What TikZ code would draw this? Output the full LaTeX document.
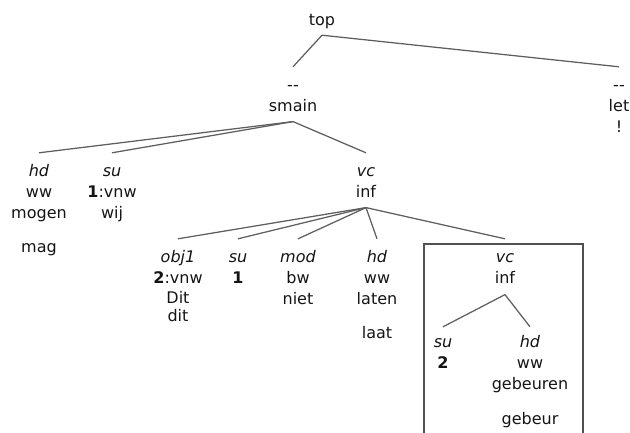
\documentclass[tikz,border=0pt]{standalone}
\usepackage{fontspec}
\setmainfont{DejaVu Sans}
\usepackage{tikz}
\usetikzlibrary{positioning}
\usepackage{xcolor}
\definecolor{cLine}{HTML}{5E5E5E}
\definecolor{cBox}{HTML}{505050}
\definecolor{cText}{HTML}{141414}

\begin{document}
\begin{tikzpicture}[
  x=1pt, y=-1pt, node distance=5pt,
  cat/.style={inner sep=0pt, text height=12pt, text depth=4pt, text=cText, font=\fontsize{16}{19}\selectfont},
  rel/.style={cat, font=\fontsize{16}{19}\selectfont\itshape},
  branch/.style={draw=cLine, line width=1.25pt},
]
\useasboundingbox (0,0) rectangle (630,432);
% top level
\node[cat, anchor=base] (top) at (322,25) {top};
\node[cat, anchor=base] (dashL) at (293,90) {{-}{-}};
\node[cat, below=of dashL] (smain) {smain};
\node[cat, anchor=base] (dashR) at (619,90) {{-}{-}};
\node[cat, below=of dashR] (let) {let};
\node[cat, below=of let] (excl) {!};
\draw[branch] ([yshift=-6pt]top.south) -- ([yshift=11pt]dashL.north);
\draw[branch] ([yshift=-6pt]top.south) -- ([yshift=11pt]dashR.north);
% daughters of smain
\node[rel, anchor=base] (hdS) at (39,176) {hd};
\node[cat, below=of hdS] (wwS) {ww};
\node[cat, below=of wwS] (mogen) {mogen};
\node[cat, below=17pt of mogen] (mag) {mag};
\node[rel, anchor=base] (suS) at (112,176) {su};
\node[cat, below=of suS] (vnwS) {\textbf{1}:vnw};
\node[cat, below=of vnwS] (wij) {wij};
\node[rel, anchor=base] (vcS) at (366,176) {vc};
\node[cat, below=of vcS] (infS) {inf};
\draw[branch] ([yshift=-6pt]smain.south) -- ([yshift=11pt]hdS.north);
\draw[branch] ([yshift=-6pt]smain.south) -- ([yshift=11pt]suS.north);
\draw[branch] ([yshift=-6pt]smain.south) -- ([yshift=11pt]vcS.north);
% daughters of inf
\node[rel, anchor=base] (obj) at (178,262) {obj1};
\node[cat, below=of obj] (vnwO) {\textbf{2}:vnw};
\node[cat, below=4pt of vnwO] (Dit) {Dit};
\node[cat, below=1pt of Dit] (dit) {dit};
\node[rel, anchor=base] (suI) at (238,262) {su};
\node[cat, below=of suI] (oneI) {\textbf{1}};
\node[rel, anchor=base] (mod) at (298,262) {mod};
\node[cat, below=of mod] (bw) {bw};
\node[cat, below=of bw] (niet) {niet};
\node[rel, anchor=base] (hdI) at (377,262) {hd};
\node[cat, below=of hdI] (wwI) {ww};
\node[cat, below=of wwI] (laten) {laten};
\node[cat, below=17pt of laten] (laat) {laat};
\node[rel, anchor=base] (vcI) at (505,262) {vc};
\node[cat, below=of vcI] (infI) {inf};
\draw[branch] ([yshift=-6pt]infS.south) -- ([yshift=11pt]obj.north);
\draw[branch] ([yshift=-6pt]infS.south) -- ([yshift=11pt]suI.north);
\draw[branch] ([yshift=-6pt]infS.south) -- ([yshift=11pt]mod.north);
\draw[branch] ([yshift=-6pt]infS.south) -- ([yshift=11pt]hdI.north);
\draw[branch] ([yshift=-6pt]infS.south) -- ([yshift=11pt]vcI.north);
% embedded vc, framed
\draw[cBox, line width=1.1pt] (424,244) rectangle (583,440);
\node[rel, anchor=base] (suV) at (443,347) {su};
\node[cat, below=of suV] (twoV) {\textbf{2}};
\node[rel, anchor=base] (hdV) at (530,347) {hd};
\node[cat, below=of hdV] (wwV) {ww};
\node[cat, below=of wwV] (gebeuren) {gebeuren};
\node[cat, below=18pt of gebeuren] (gebeur) {gebeur};
\draw[branch] ([yshift=-7pt]infI.south) -- ([yshift=8pt]suV.north);
\draw[branch] ([yshift=-7pt]infI.south) -- ([yshift=8pt]hdV.north);
\end{tikzpicture}
\end{document}
